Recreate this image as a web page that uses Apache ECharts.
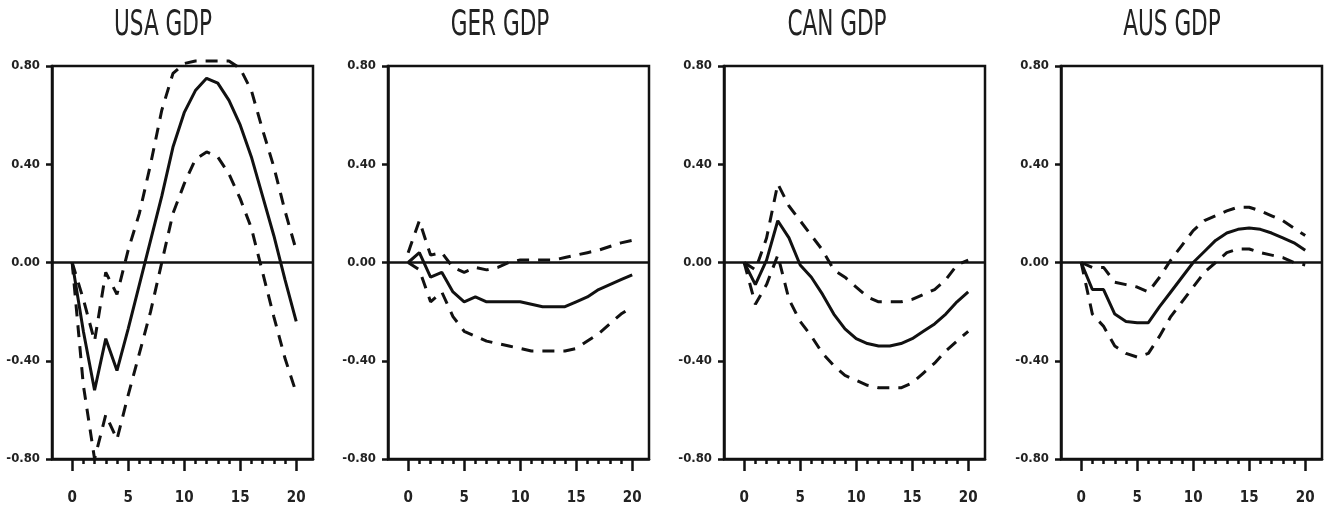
<!DOCTYPE html>
<html>
<head>
<meta charset="utf-8">
<script src="https://cdn.jsdelivr.net/npm/echarts@6/dist/echarts.min.js"></script>
<style>
    html, body { margin: 0; padding: 0; background: #fff; }
    #chart { width: 1325px; height: 515px; }
</style>
</head>
<body>
<div id="chart"></div>
<script type="text/javascript">
    // horizon (periods after the shock)
    var periods = [0, 1, 2, 3, 4, 5, 6, 7, 8, 9, 10, 11, 12, 13, 14, 15, 16, 17, 18, 19, 20];
    var xMajor = [0, 5, 10, 15, 20];
    var titles = ['USA GDP', 'GER GDP', 'CAN GDP', 'AUS GDP'];

    // responses: point estimate and the two bands
    var usaMid = [0, -0.28, -0.52, -0.31, -0.44, -0.27, -0.09, 0.09, 0.27, 0.47, 0.61, 0.70, 0.75, 0.73, 0.66, 0.56, 0.43, 0.27, 0.11, -0.07, -0.24];
    var usaUp  = [0, -0.15, -0.32, -0.04, -0.13, 0.05, 0.20, 0.40, 0.62, 0.77, 0.81, 0.82, 0.82, 0.82, 0.82, 0.79, 0.70, 0.54, 0.39, 0.21, 0.05];
    var usaLow = [0, -0.50, -0.80, -0.62, -0.72, -0.54, -0.37, -0.20, 0.00, 0.20, 0.32, 0.42, 0.45, 0.43, 0.36, 0.26, 0.14, -0.04, -0.22, -0.39, -0.53];

    var gerMid = [0, 0.04, -0.06, -0.04, -0.12, -0.16, -0.14, -0.16, -0.16, -0.16, -0.16, -0.17, -0.18, -0.18, -0.18, -0.16, -0.14, -0.11, -0.09, -0.07, -0.05];
    var gerUp  = [0.04, 0.17, 0.03, 0.04, -0.02, -0.04, -0.02, -0.03, -0.02, 0.00, 0.01, 0.01, 0.01, 0.01, 0.02, 0.03, 0.04, 0.05, 0.065, 0.08, 0.09];
    var gerLow = [0, -0.03, -0.16, -0.12, -0.22, -0.28, -0.30, -0.32, -0.33, -0.34, -0.35, -0.36, -0.36, -0.36, -0.36, -0.35, -0.32, -0.29, -0.25, -0.21, -0.18];

    var canMid = [0, -0.09, 0.01, 0.17, 0.10, -0.01, -0.06, -0.13, -0.21, -0.27, -0.31, -0.33, -0.34, -0.34, -0.33, -0.31, -0.28, -0.25, -0.21, -0.16, -0.12];
    var canUp  = [0, -0.03, 0.10, 0.32, 0.23, 0.17, 0.11, 0.05, -0.03, -0.06, -0.10, -0.14, -0.16, -0.16, -0.16, -0.15, -0.13, -0.11, -0.07, -0.01, 0.01];
    var canLow = [0, -0.17, -0.09, 0.03, -0.15, -0.24, -0.30, -0.37, -0.42, -0.46, -0.48, -0.50, -0.51, -0.51, -0.51, -0.49, -0.45, -0.41, -0.36, -0.32, -0.28];

    var ausMid = [0, -0.11, -0.11, -0.21, -0.24, -0.245, -0.245, -0.18, -0.12, -0.06, 0.00, 0.045, 0.09, 0.12, 0.135, 0.14, 0.135, 0.12, 0.10, 0.08, 0.05];
    var ausUp  = [0, -0.02, -0.02, -0.08, -0.09, -0.10, -0.12, -0.06, 0.01, 0.07, 0.13, 0.17, 0.19, 0.21, 0.225, 0.225, 0.21, 0.19, 0.17, 0.14, 0.11];
    var ausLow = [0, -0.21, -0.26, -0.34, -0.37, -0.385, -0.37, -0.30, -0.22, -0.16, -0.10, -0.04, 0.00, 0.04, 0.055, 0.055, 0.04, 0.03, 0.02, 0.00, -0.01];

    var panels = [
        [usaMid, usaUp, usaLow],
        [gerMid, gerUp, gerLow],
        [canMid, canUp, canLow],
        [ausMid, ausUp, ausLow]
    ];

    var gridLeft = [52, 388, 724, 1061];
    var titleX = [163, 500, 837, 1172];
    var INK = '#111';
    var NARROW = '"Liberation Sans Narrow", "DejaVu Sans Condensed", "Arial Narrow", sans-serif';

    function pairs(arr) {
        return periods.map(function (p, i) { return [p, arr[i]]; });
    }

    var grids = [], xAxes = [], yAxes = [], series = [], graphic = [];

    for (var k = 0; k < 4; k++) {
        grids.push({
            left: gridLeft[k], top: 66, width: 261, height: 393,
            show: true, borderColor: INK, borderWidth: 2.5, backgroundColor: 'transparent'
        });
        // labelled axis with the long ticks
        xAxes.push({
            type: 'value', gridIndex: k, position: 'bottom', min: -1.8, max: 21.5,
            splitLine: { show: false },
            axisLine: { show: true, onZero: false, lineStyle: { color: INK, width: 2.5 } },
            axisTick: { show: true, customValues: xMajor, length: 12, lineStyle: { color: INK, width: 2.5 } },
            axisLabel: {
                customValues: xMajor, margin: 32, color: '#222',
                fontFamily: NARROW, fontWeight: 'bold', fontSize: 15
            }
        });
        // short ticks at every period
        xAxes.push({
            type: 'value', gridIndex: k, position: 'bottom', min: -1.8, max: 21.5,
            splitLine: { show: false },
            axisLine: { show: false, onZero: false },
            axisTick: { show: true, customValues: periods, length: 5, lineStyle: { color: INK, width: 2.5 } },
            axisLabel: { show: false }
        });
        yAxes.push({
            type: 'value', gridIndex: k, min: -0.8, max: 0.8, interval: 0.4,
            splitLine: { show: false },
            axisLine: { show: true, onZero: false, lineStyle: { color: INK, width: 2.5 } },
            axisTick: { show: true, length: 6, lineStyle: { color: INK, width: 2.5 } },
            axisLabel: {
                margin: 12, color: '#222', fontFamily: NARROW, fontWeight: 'bold', fontSize: 13,
                formatter: function (v) {
                    return Math.abs(v) < 1e-9 ? '0.00' : v.toFixed(2);
                }
            }
        });

        var d = panels[k];
        series.push({
            type: 'line', xAxisIndex: 2 * k, yAxisIndex: k, data: pairs(d[0]),
            symbol: 'none', clip: false, z: 3,
            lineStyle: { color: INK, width: 3 },
            markLine: {
                silent: true, symbol: 'none', label: { show: false },
                lineStyle: { color: INK, width: 2.5, type: 'solid' },
                data: [{ yAxis: 0 }]
            }
        });
        for (var j = 1; j < 3; j++) {
            series.push({
                type: 'line', xAxisIndex: 2 * k, yAxisIndex: k, data: pairs(d[j]),
                symbol: 'none', clip: false, z: 3,
                lineStyle: { color: INK, width: 3, type: [12, 9] }
            });
        }

        graphic.push({
            type: 'text', x: titleX[k], y: 8, scaleY: 1.5,
            style: {
                text: titles[k], fontSize: 24, fontFamily: NARROW,
                fill: '#222', align: 'center', verticalAlign: 'top'
            }
        });
    }

    var myChart = echarts.init(document.getElementById('chart'));
    myChart.setOption({
        animation: false,
        backgroundColor: '#fff',
        grid: grids,
        xAxis: xAxes,
        yAxis: yAxes,
        series: series,
        graphic: graphic
    });
</script>
</body>
</html>
